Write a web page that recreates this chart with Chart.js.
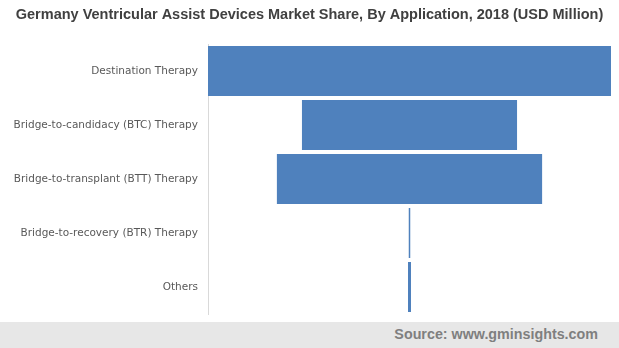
<!DOCTYPE html>
<html>
<head>
<meta charset="utf-8">
<script src="https://cdn.jsdelivr.net/npm/chart.js@4"></script>
<style>
  html, body { margin: 0; padding: 0; background: #fff; }
  #wrap { width: 619px; height: 322px; position: relative; }
  #footer {
    width: 619px; height: 26px; background: #e7e7e7;
    font: bold 14.3px "Liberation Sans", Arial, sans-serif; color: #7f7f7f;
    text-align: right; box-sizing: border-box; padding-right: 21px; line-height: 24px;
  }
</style>
</head>
<body>
<div id="wrap"><canvas id="shareChart"></canvas></div>
<div id="footer">Source: www.gminsights.com</div>
<script>
const applications = [
  "Destination Therapy",
  "Bridge-to-candidacy (BTC) Therapy",
  "Bridge-to-transplant (BTT) Therapy",
  "Bridge-to-recovery (BTR) Therapy",
  "Others",
];

// market size, USD million
const revenue = [160, 85.4, 105.3, 0.6, 1.2];

// funnel style: each bar is centred on zero
const half = Math.max(...revenue) / 2;
const spans = revenue.map((v) => [-v / 2, v / 2]);

const ctx = document.getElementById("shareChart").getContext("2d");

new Chart(ctx, {
  type: "bar",
  data: {
    labels: applications,
    datasets: [
      {
        label: "Revenue",
        data: spans,
        backgroundColor: "#4f81bd",
        borderWidth: 0,
        barPercentage: 0.926,
        categoryPercentage: 1,
      },
    ],
  },
  options: {
    indexAxis: "y",
    responsive: true,
    maintainAspectRatio: false,
    animation: false,
    layout: { padding: { left: 8, right: 8, top: 0, bottom: 8 } },
    plugins: {
      legend: { display: false },
      title: {
        display: true,
        text: "Germany Ventricular Assist Devices Market Share, By Application, 2018 (USD Million)",
        color: "#404040",
        font: { family: "'Liberation Sans', Arial, sans-serif", size: 14.5, weight: "bold" },
        padding: { top: 6.3, bottom: 20.3 },
      },
      tooltip: {
        callbacks: {
          label: (context) => `USD ${revenue[context.dataIndex]} Million`,
        },
      },
    },
    scales: {
      x: {
        display: false,
        min: -half,
        max: half,
      },
      y: {
        afterFit: (scale) => {
          scale.width = 200;
          // labels sit mid-band, no extra room needed at the ends
          scale.paddingTop = 0;
          scale.paddingBottom = 0;
        },
        grid: { display: false, drawTicks: false },
        border: { display: true, color: "#d9d9d9", width: 1 },
        ticks: {
          color: "#595959",
          padding: 10,
          font: { family: "'DejaVu Sans', Verdana, sans-serif", size: 10.5 },
        },
      },
    },
  },
});
</script>
</body>
</html>
